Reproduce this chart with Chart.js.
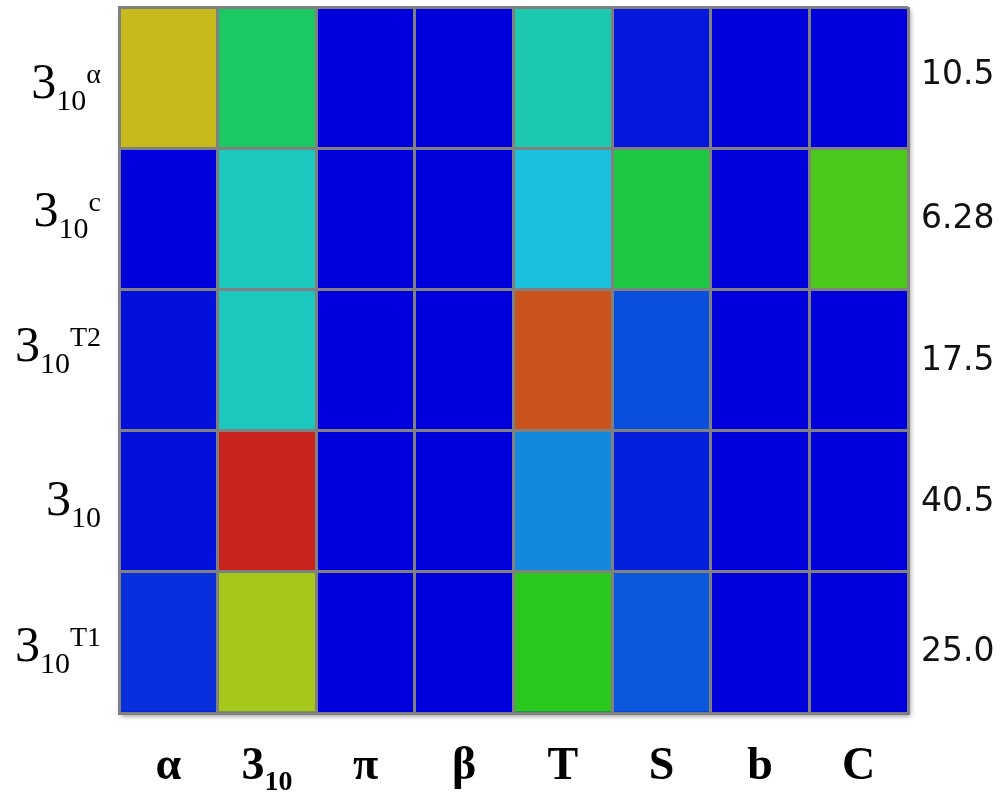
<!DOCTYPE html>
<html>
<head>
<meta charset="utf-8">
<script src="https://cdn.jsdelivr.net/npm/chart.js@4.4.1/dist/chart.umd.min.js"></script>
<style>
  html, body { margin: 0; padding: 0; background: #fff; }
</style>
</head>
<body>
<canvas id="heat" width="1005" height="798"></canvas>
<script>
// columns (bottom labels); '3_10' is drawn as 3 with subscript 10
const columns = ['α', '3_10', 'π', 'β', 'T', 'S', 'b', 'C'];
// rows, top to bottom: 3_10 with these superscripts
const rowSups = ['α', 'c', 'T2', '', 'T1'];
const rowTotals = ['10.5', '6.28', '17.5', '40.5', '25.0'];

// heat values (0-100), one array per row
const row310Alpha = [77, 41, 0, 0, 31, 3, 0, 0];
const row310C     = [0, 29, 0, 0, 24, 45, 0, 57];
const row310T2    = [2, 29, 0, 0, 92, 10, 0, 0];
const row310      = [2, 99, 0, 0, 17, 4, 0, 0];
const row310T1    = [6, 70, 0, 0, 52, 11, 0, 0];
const rows = [row310Alpha, row310C, row310T2, row310, row310T1];

// jet-like colour map used by the original figure
const stops = [
  [0, 0, 220], [28, 200, 220], [28, 200, 28], [200, 200, 28], [200, 28, 28]
];
const heatColor = (v) => {
  const t = Math.max(0, Math.min(100, v)) / 25;
  const i = Math.min(3, Math.floor(t));
  const f = t - i;
  const a = stops[i], b = stops[i + 1];
  const c = a.map((x, k) => Math.round(x + (b[k] - x) * f));
  return `rgb(${c[0]},${c[1]},${c[2]})`;
};

// stacked bars: bottom dataset is the last row
const datasets = rows.slice().reverse().map((vals, i) => ({
  label: 'row' + i,
  data: vals.map(() => 1),
  backgroundColor: vals.map(heatColor),
  borderWidth: 0,
  barPercentage: 1,
  categoryPercentage: 1,
}));

const serif = '"Liberation Serif", "Times New Roman", serif';
const rowNudge = [20, 7, 1, 14, 19];
const totalNudge = [-2, 1, 1, 1, 10];

const drawRowLabel = (ctx, sup, xRight, base) => {
  ctx.font = `50px ${serif}`;
  const w3 = ctx.measureText('3').width;
  ctx.font = `30px ${serif}`;
  const wSub = ctx.measureText('10').width;
  ctx.font = `28px ${serif}`;
  const wSup = sup ? ctx.measureText(sup).width : 0;
  let x = xRight - (w3 + wSub + wSup);
  ctx.font = `50px ${serif}`;
  ctx.fillText('3', x, base);
  x += w3;
  ctx.font = `30px ${serif}`;
  ctx.fillText('10', x, base + 12);
  x += wSub;
  if (sup) {
    ctx.font = `28px ${serif}`;
    ctx.fillText(sup, x, base - 15);
  }
};

const labelPlugin = {
  id: 'labels',
  beforeDatasetsDraw(chart) {
    const { ctx, chartArea: a } = chart;
    ctx.save();
    ctx.shadowColor = 'rgba(0,0,0,0.45)';
    ctx.shadowBlur = 5;
    ctx.shadowOffsetX = 2;
    ctx.shadowOffsetY = 3;
    ctx.fillStyle = '#0000dc';
    ctx.fillRect(a.left, a.top, a.right - a.left, a.bottom - a.top);
    ctx.restore();
  },
  afterDraw(chart) {
    const { ctx, scales: { x, y } } = chart;
    ctx.save();
    ctx.fillStyle = '#000';
    ctx.textBaseline = 'alphabetic';
    ctx.textAlign = 'left';
    rows.forEach((r, i) => {
      const yc = y.getPixelForValue(rows.length - i - 0.5);
      drawRowLabel(ctx, rowSups[i], 101, yc + rowNudge[i]);
      ctx.font = '33px "DejaVu Sans", sans-serif';
      ctx.fillStyle = '#111';
      ctx.textBaseline = 'middle';
      ctx.fillText(rowTotals[i], 921, yc + totalNudge[i]);
      ctx.textBaseline = 'alphabetic';
      ctx.fillStyle = '#000';
    });
    columns.forEach((c, j) => {
      const xc = x.getPixelForValue(j);
      const base = 779;
      if (c === '3_10') {
        ctx.font = `bold 46px ${serif}`;
        const w3 = ctx.measureText('3').width;
        ctx.font = `bold 28px ${serif}`;
        const wSub = ctx.measureText('10').width;
        const x0 = xc - (w3 + wSub) / 2;
        ctx.font = `bold 46px ${serif}`;
        ctx.fillText('3', x0, base);
        ctx.font = `bold 28px ${serif}`;
        ctx.fillText('10', x0 + w3, base + 11);
      } else {
        ctx.font = `bold 46px ${serif}`;
        ctx.textAlign = 'center';
        ctx.fillText(c, xc, base);
        ctx.textAlign = 'left';
      }
    });
    ctx.restore();
  },
};

new Chart(document.getElementById('heat').getContext('2d'), {
  type: 'bar',
  data: { labels: columns, datasets },
  options: {
    responsive: false,
    animation: false,
    layout: { padding: { left: 119, right: 97, top: 7, bottom: 85 } },
    plugins: { legend: { display: false }, tooltip: { enabled: false } },
    scales: {
      x: {
        stacked: true,
        offset: true,
        grid: { offset: true, color: '#808080', lineWidth: 3, drawTicks: false, z: 1 },
        border: { color: '#808080', width: 3, z: 1 },
        ticks: { display: false },
      },
      y: {
        stacked: true,
        min: 0,
        max: 5,
        ticks: { display: false, stepSize: 1 },
        grid: { color: '#808080', lineWidth: 3, drawTicks: false, z: 1 },
        border: { color: '#808080', width: 3, z: 1 },
      },
    },
  },
  plugins: [labelPlugin],
});
</script>
</body>
</html>
